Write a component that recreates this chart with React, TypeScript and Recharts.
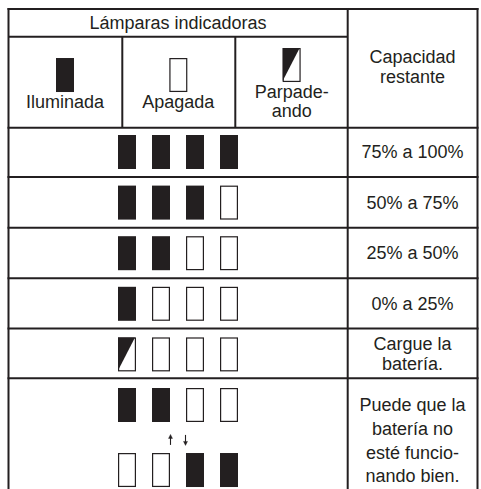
import { Customized, Scatter, ScatterChart, XAxis, YAxis } from 'recharts'

const INK = '#231f20'
const FONT = "'Liberation Sans', Arial, Helvetica, sans-serif"

// ---- data ----
const headerTitle = 'Lámparas indicadoras'
const capacityTitle = ['Capacidad', 'restante']
const legendStates = ['on', 'off', 'blink']
const legendLabels = [['Iluminada'], ['Apagada'], ['Parpade-', 'ando']]
const lampPatterns = [
  ['on', 'on', 'on', 'on'],
  ['on', 'on', 'on', 'off'],
  ['on', 'on', 'off', 'off'],
  ['on', 'off', 'off', 'off'],
  ['blink', 'off', 'off', 'off'],
  ['on', 'on', 'off', 'off'],
]
const alternatePattern = ['off', 'off', 'on', 'on']
const capacityLabels = [
  ['75% a 100%'],
  ['50% a 75%'],
  ['25% a 50%'],
  ['0% a 25%'],
  ['Cargue la', 'batería.'],
  ['Puede que la', 'batería no', 'esté funcio-', 'nando bien.'],
]

// ---- layout ----
const WIDTH = 481
const HEIGHT = 489
const CAP_COL = 133
const PLOT_W = WIDTH - CAP_COL
const LAMP_W = 18
const LAMP_H = 34
const LAMP_X0 = 127
const LAMP_PITCH = 34
const COL_X0 = 65
const COL_PITCH = 113.33
const ROW_Y0 = 152
const ROW_PITCH = 50.6
const HEADER_ROW = -1.383
const CAP_HEADER_ROW = -1.67
const ARROW_ROW = 5.69
const ALT_ROW = 6.285
const LAST_LABEL_ROW = 5.71

const lampDomain = [-LAMP_X0 / LAMP_PITCH, (PLOT_W - LAMP_X0) / LAMP_PITCH]
const colDomain = [-COL_X0 / COL_PITCH, (PLOT_W - COL_X0) / COL_PITCH]
const rowDomain = [-ROW_Y0 / ROW_PITCH, (HEIGHT - ROW_Y0) / ROW_PITCH]

const lampPoints = [
  ...lampPatterns.flatMap((states, row) => states.map((state, lamp) => ({ lamp, row, state }))),
  ...alternatePattern.map((state, lamp) => ({ lamp, row: ALT_ROW, state })),
]
const arrowPoints = [{ lamp: 1.5, row: ARROW_ROW }]
const legendPoints = legendStates.map((state, col) => ({ col, row: HEADER_ROW, state, lines: legendLabels[col] }))

const capTicks = [CAP_HEADER_ROW, ...capacityLabels.map((_, i) => (i === capacityLabels.length - 1 ? LAST_LABEL_ROW : i))]
const capLines = [capacityTitle, ...capacityLabels]

function LampRect({ cx, cy, state }: { cx: number; cy: number; state: string }) {
  const x = cx - LAMP_W / 2
  const y = cy - LAMP_H / 2
  if (state === 'on') return <rect x={x} y={y} width={LAMP_W} height={LAMP_H} fill={INK} />
  return (
    <g>
      <rect x={x + 0.6} y={y + 0.6} width={LAMP_W - 1.2} height={LAMP_H - 1.2} fill="#fff" stroke={INK} strokeWidth={1.2} />
      {state === 'blink' && <polygon points={`${x},${y} ${x + LAMP_W - 1},${y} ${x},${y + LAMP_H - 1}`} fill={INK} />}
    </g>
  )
}

function TextLines({ x, y, lines, lh }: { x: number; y: number; lines: string[]; lh: number }) {
  return (
    <text textAnchor="middle" fontFamily={FONT} fontSize={18} fill={INK}>
      {lines.map((line, j) => (
        <tspan key={line} x={x} y={y + 6 + (j - (lines.length - 1) / 2) * lh}>
          {line}
        </tspan>
      ))}
    </text>
  )
}

function CapacityTick(props: any) {
  const { x, y, payload } = props
  const lines = capLines[capTicks.indexOf(payload.value)] || []
  return <TextLines x={x + 64.5} y={y} lines={lines} lh={lines.length > 2 ? 23.7 : 20} />
}

function Arrows({ cx, cy }: { cx: number; cy: number }) {
  const up = cx - 7.5
  const down = cx + 7.5
  return (
    <g stroke={INK} strokeWidth={1.1} fill={INK}>
      <line x1={up} y1={cy - 2} x2={up} y2={cy + 5} />
      <polygon points={`${up - 2},${cy - 1.5} ${up + 2},${cy - 1.5} ${up},${cy - 5.5}`} strokeWidth={0.4} />
      <line x1={down} y1={cy - 5} x2={down} y2={cy + 2} />
      <polygon points={`${down - 2},${cy + 1.5} ${down + 2},${cy + 1.5} ${down},${cy + 5.5}`} strokeWidth={0.4} />
    </g>
  )
}

function TableFrame() {
  const full = [9, 127.7, 177, 227.7, 278.3, 328.5, 378.3]
  return (
    <g stroke={INK} strokeWidth={2}>
      {full.map((y) => (
        <line key={`h-${y}`} x1={7.5} x2={478.5} y1={y} y2={y} />
      ))}
      <line x1={8} x2={348} y1={36.7} y2={36.7} />
      <line x1={8.5} x2={8.5} y1={8} y2={HEIGHT} />
      <line x1={347.7} x2={347.7} y1={8} y2={HEIGHT} />
      <line x1={477.5} x2={477.5} y1={8} y2={HEIGHT} />
      <line x1={122.3} x2={122.3} y1={36.7} y2={127.7} />
      <line x1={235.3} x2={235.3} y1={36.7} y2={127.7} />
      <text x={178} y={29} textAnchor="middle" fontFamily={FONT} fontSize={18} fill={INK} stroke="none">
        {headerTitle}
      </text>
    </g>
  )
}

export default function App() {
  return (
    <div style={{ position: 'absolute', left: 0, top: 0, width: WIDTH, height: HEIGHT, background: '#fff' }}>
      <ScatterChart width={WIDTH} height={HEIGHT} margin={{ top: 0, right: 0, bottom: 0, left: 0 }}>
        <XAxis xAxisId="lamp" dataKey="lamp" type="number" domain={lampDomain} allowDataOverflow hide />
        <XAxis xAxisId="col" dataKey="col" type="number" domain={colDomain} allowDataOverflow hide />
        <YAxis yAxisId="rows" dataKey="row" type="number" domain={rowDomain} allowDataOverflow reversed hide />
        <YAxis
          yAxisId="cap"
          orientation="right"
          type="number"
          domain={rowDomain}
          allowDataOverflow
          reversed
          width={CAP_COL}
          ticks={capTicks}
          interval={0}
          axisLine={false}
          tickLine={false}
          tickSize={0}
          tickMargin={0}
          tick={<CapacityTick />}
        />
        <Customized component={<TableFrame />} />
        <Scatter
          data={lampPoints}
          xAxisId="lamp"
          yAxisId="rows"
          isAnimationActive={false}
          shape={(p: any) => <LampRect cx={p.cx} cy={p.cy} state={p.payload.state} />}
        />
        <Scatter
          data={arrowPoints}
          xAxisId="lamp"
          yAxisId="rows"
          isAnimationActive={false}
          shape={(p: any) => <Arrows cx={p.cx} cy={p.cy} />}
        />
        <Scatter
          data={legendPoints}
          xAxisId="col"
          yAxisId="rows"
          isAnimationActive={false}
          shape={(p: any) => {
            const { lines, state } = p.payload
            const top = p.cy - 24 - (lines.length - 1) * 10
            return (
              <g>
                <LampRect cx={p.cx} cy={top + LAMP_H / 2} state={state} />
                <text textAnchor="middle" fontFamily={FONT} fontSize={18} fill={INK}>
                  {lines.map((line: string, j: number) => (
                    <tspan key={line} x={p.cx} y={top + LAMP_H + 16 + j * 19}>
                      {line}
                    </tspan>
                  ))}
                </text>
              </g>
            )
          }}
        />
      </ScatterChart>
    </div>
  )
}
